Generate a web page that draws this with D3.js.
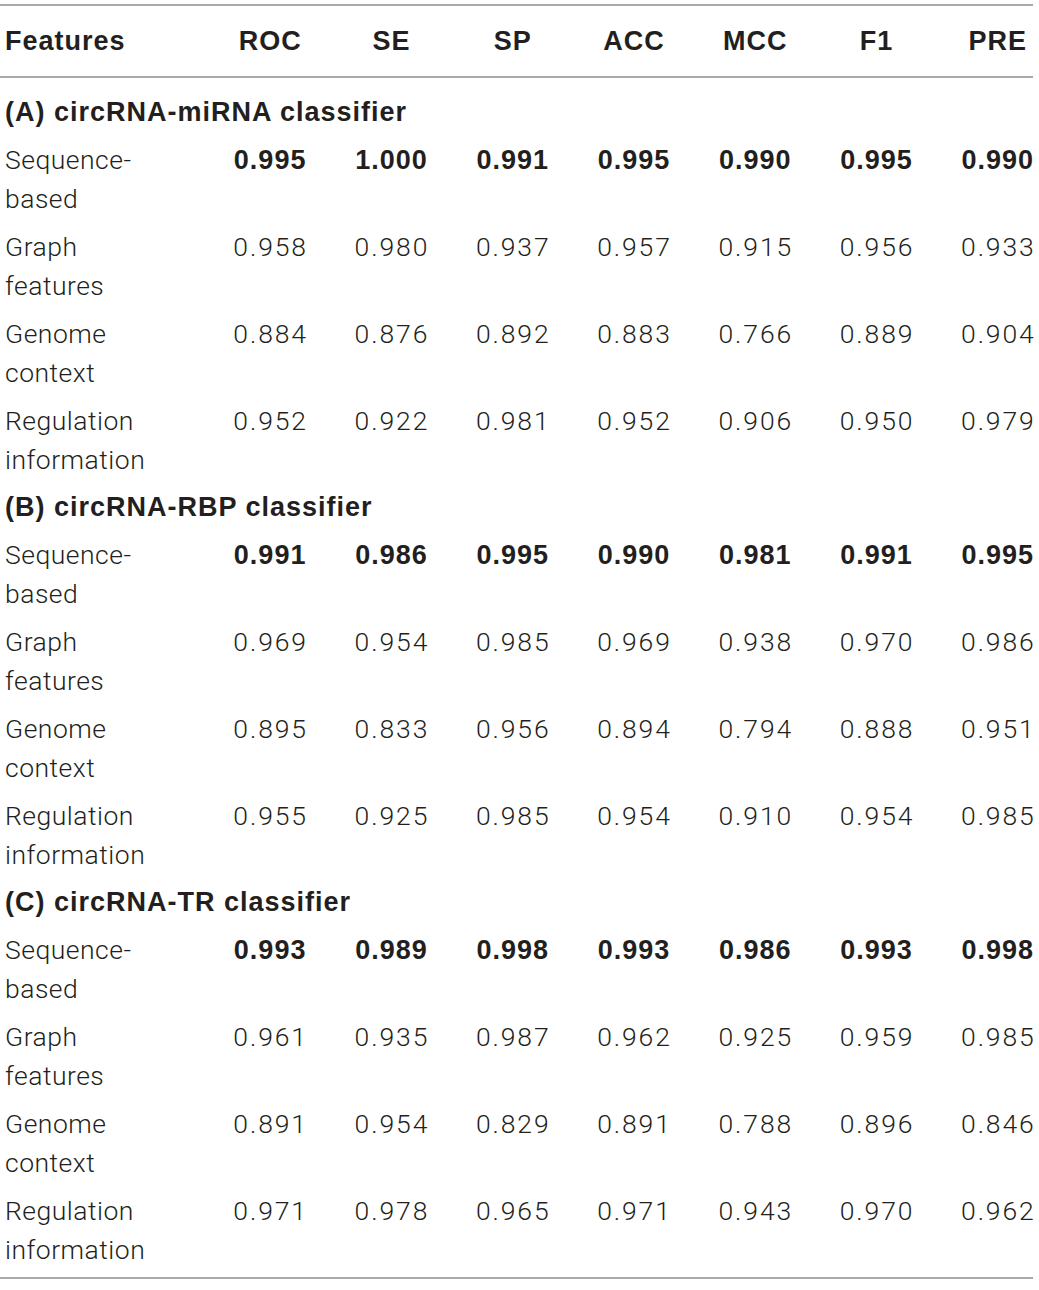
<!DOCTYPE html>
<html><head><meta charset="utf-8">
<script src="https://cdn.jsdelivr.net/npm/d3@7"></script>
<style>
html,body{margin:0;padding:0;background:#fff;}
svg{display:block;}
.light{font-family:Roboto,"Liberation Sans",sans-serif;font-weight:300;font-size:26.5px;}
.num{letter-spacing:1.9px;}
.lab{letter-spacing:0.5px;}
.bold{font-family:"Liberation Sans",Arial,sans-serif;font-weight:bold;font-size:27px;letter-spacing:1px;}
</style></head>
<body>
<svg id="chart" width="1039" height="1290"></svg>
<script>
const columns = ["ROC","SE","SP","ACC","MCC","F1","PRE"];
const sections = ["(A) circRNA-miRNA classifier","(B) circRNA-RBP classifier","(C) circRNA-TR classifier"];
const featureNames = [["Sequence-","based"],["Graph","features"],["Genome","context"],["Regulation","information"]];
const miRNA = [
  [0.995,1.000,0.991,0.995,0.990,0.995,0.990],
  [0.958,0.980,0.937,0.957,0.915,0.956,0.933],
  [0.884,0.876,0.892,0.883,0.766,0.889,0.904],
  [0.952,0.922,0.981,0.952,0.906,0.950,0.979]
];
const RBP = [
  [0.991,0.986,0.995,0.990,0.981,0.991,0.995],
  [0.969,0.954,0.985,0.969,0.938,0.970,0.986],
  [0.895,0.833,0.956,0.894,0.794,0.888,0.951],
  [0.955,0.925,0.985,0.954,0.910,0.954,0.985]
];
const TR = [
  [0.993,0.989,0.998,0.993,0.986,0.993,0.998],
  [0.961,0.935,0.987,0.962,0.925,0.959,0.985],
  [0.891,0.954,0.829,0.891,0.788,0.896,0.846],
  [0.971,0.978,0.965,0.971,0.943,0.970,0.962]
];
const sectionData = [miRNA, RBP, TR];

const svg = d3.select("#chart");
const left = 0, right = 1033;
const ink = "#231f20", rule = "#a7a9ac";

const x = d3.scaleBand().domain(columns).range([209, 1058]).paddingInner(0);
const cx = c => x(c) + x.bandwidth()/2;
const secY = d3.scaleLinear().domain([0,1]).range([111, 506]);
const rowY = d3.scaleLinear().domain([0,1]).range([48, 135]);

// rules
[5, 77, 1278].forEach(y => {
  svg.append("line").attr("x1", left).attr("x2", right).attr("y1", y).attr("y2", y)
    .attr("stroke", rule).attr("stroke-width", 2);
});

// header
svg.append("text").attr("class","bold").attr("x", 5).attr("y", 50)
  .attr("fill", ink).text("Features");
svg.selectAll("text.hdr").data(columns).enter().append("text")
  .attr("class","bold hdr").attr("x", d => cx(d) + 0.5).attr("y", 50)
  .attr("text-anchor","middle").attr("fill", ink).text(d => d);

sections.forEach((sname, s) => {
  const sy = secY(s);
  svg.append("text").attr("class","bold").attr("x", 5).attr("y", sy + 9.5)
    .attr("fill", ink).text(sname);
  sectionData[s].forEach((row, i) => {
    const cy = sy + rowY(i);
    const isBold = i === 0;
    const lab = svg.append("text").attr("class","light lab").attr("x", 5).attr("y", cy + 9.5)
      .attr("fill", ink);
    featureNames[i].forEach((t, k) => {
      lab.append("tspan").attr("x", 5).attr("dy", k === 0 ? 0 : 39.5).text(t);
    });
    svg.selectAll(null).data(row).enter().append("text")
      .attr("class", isBold ? "bold" : "light num")
      .attr("x", (d, j) => cx(columns[j]) + (isBold ? 0.5 : 1))
      .attr("y", cy + 9.5).attr("text-anchor","middle")
      .attr("fill", ink)
      .text(d => d3.format(".3f")(d));
  });
});
</script>
</body></html>
